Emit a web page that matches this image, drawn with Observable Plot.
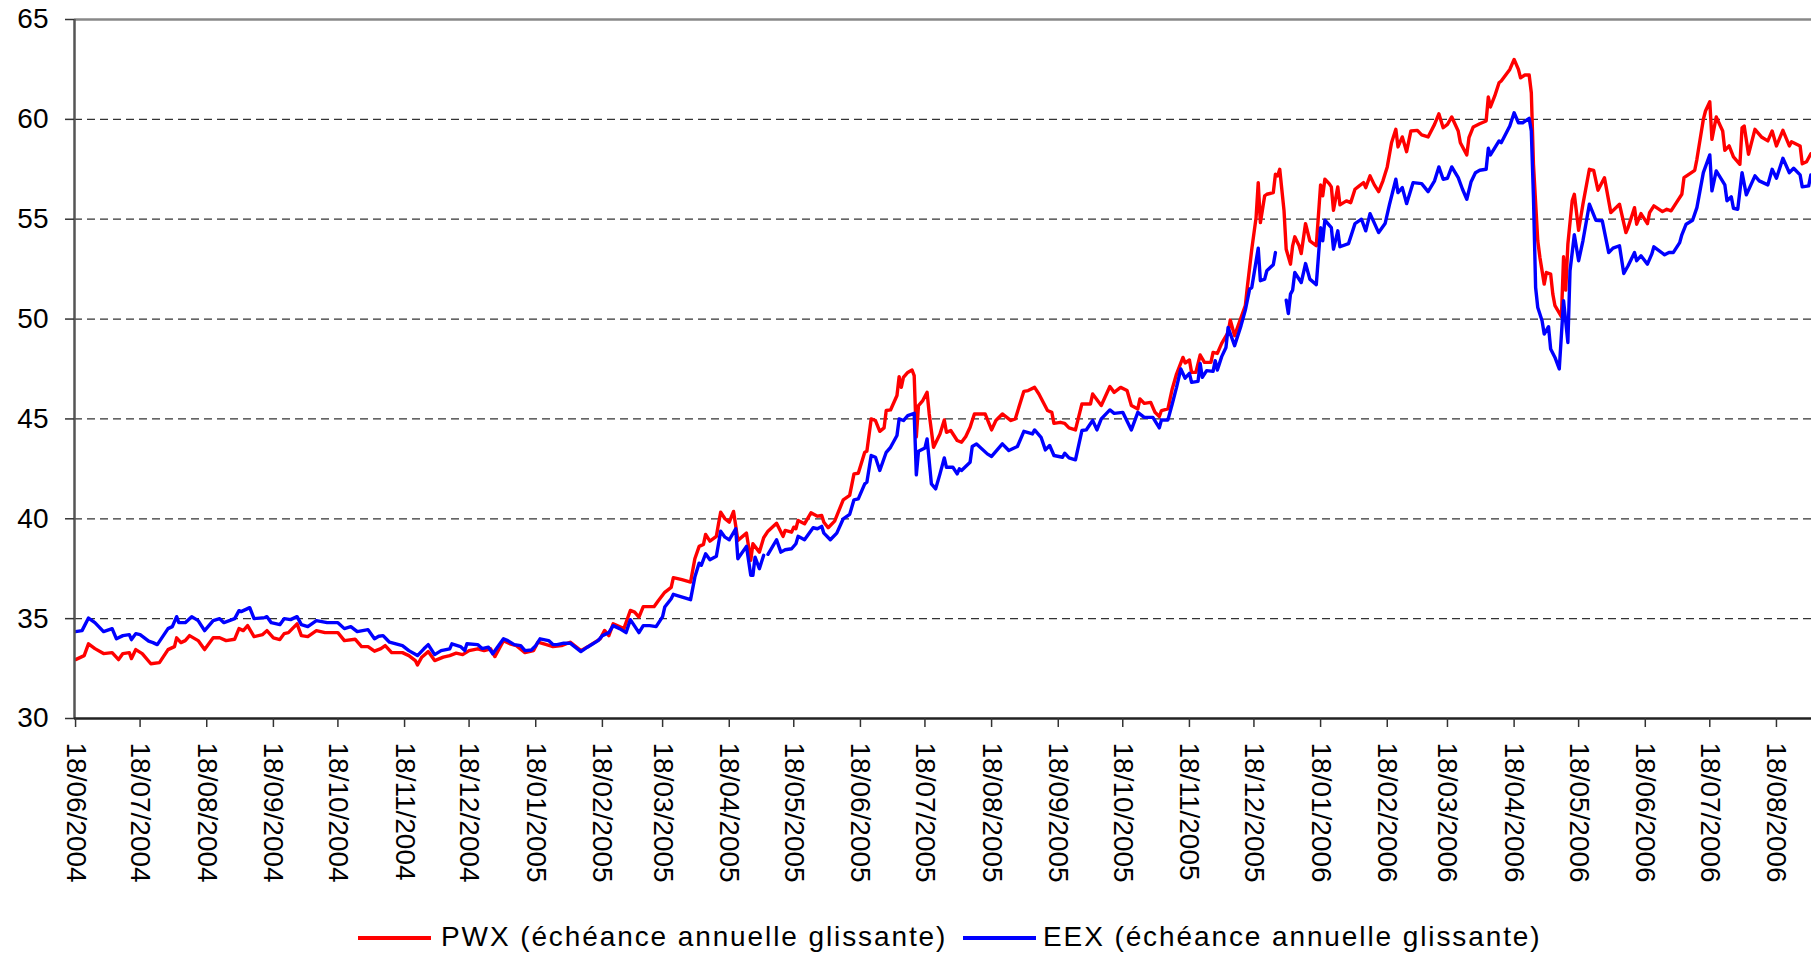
<!DOCTYPE html>
<html>
<head>
<meta charset="utf-8">
<script src="https://cdn.jsdelivr.net/npm/d3@7"></script>
<script src="https://cdn.jsdelivr.net/npm/@observablehq/plot@0.6"></script>
<style>
  html, body { margin: 0; padding: 0; background: #fff; }
  #wrap { position: relative; width: 1811px; height: 956px; overflow: hidden; font-family: "Liberation Sans", Arial, sans-serif; }
  #legend { position: absolute; left: 0; top: 905px; width: 1811px; height: 51px; }
  .lg-line { position: absolute; height: 4px; top: 31px; width: 73px; }
  .lg-text { position: absolute; top: 14px; font-size: 28px; line-height: 36px; letter-spacing: 1.9px; color: #000; white-space: nowrap; }
</style>
</head>
<body>
<div id="wrap">
  <div id="chart"></div>
  <div id="legend"></div>
</div>
<script>
// ---- Data ----
const startDate = "18/06/2004";           // day 0
const seriesNames = ["PWX (échéance annuelle glissante)", "EEX (échéance annuelle glissante)"];
const seriesColors = ["#ff0000", "#0000ff"];

// PWX: trading day offsets (days after 18/06/2004) and prices
const pwxDay = [0,4,6,9,13,17,20,22,25,26,28,31,35,39,43,46,47,49,51,53,57,60,64,67,70,74,76,78,80,83,87,89,92,95,97,99,103,105,108,112,116,122,125,130,133,136,139,142,144,147,152,155,158,159,161,164,167,171,174,177,180,183,187,190,193,195,197,199,202,205,209,213,215,219,222,226,230,235,239,244,246,248,250,255,258,260,262,264,269,271,274,277,278,282,286,288,290,292,293,295,298,299,300,302,304,306,308,312,314,315,318,320,322,326,329,330,333,334,335,336,339,342,345,347,348,350,353,357,360,362,364,367,368,370,372,374,376,377,379,382,383,384,385,387,389,390,391,392,394,396,397,399,402,404,405,407,410,412,414,416,418,423,426,428,431,435,437,441,443,446,448,452,454,455,458,460,462,465,468,472,473,477,481,483,486,489,491,494,495,497,500,502,504,505,508,510,512,515,516,518,519,521,523,525,528,529,531,533,536,537,539,542,544,545,546,547,549,550,551,553,554,557,558,559,560,562,563,565,566,567,569,570,572,574,577,579,580,581,583,584,585,587,588,591,593,595,597,599,600,602,604,606,608,610,612,614,615,617,619,621,624,626,629,632,634,636,638,640,643,644,647,648,650,653,656,657,658,660,662,663,667,669,671,672,674,676,677,678,680,681,683,684,686,687,688,691,692,693,694,696,697,699,701,704,706,708,711,714,718,721,722,725,726,728,731,732,734,738,740,742,745,747,748,753,754,757,758,760,761,763,766,767,769,771,774,775,776,778,781,784,787,789,791,794,797,798,802,803,805,807];
const pwxVal = [32.95,33.15,33.74,33.5,33.25,33.3,32.95,33.25,33.3,33.0,33.45,33.25,32.74,32.8,33.45,33.6,34.04,33.8,33.9,34.15,33.9,33.45,34.04,34.04,33.9,33.97,34.5,34.4,34.65,34.1,34.2,34.4,34.04,33.95,34.25,34.3,34.74,34.15,34.1,34.4,34.3,34.3,33.9,33.97,33.6,33.6,33.37,33.5,33.65,33.3,33.3,33.15,32.9,32.68,33.07,33.35,32.9,33.07,33.15,33.27,33.2,33.4,33.49,33.4,33.49,33.1,33.49,33.9,33.74,33.65,33.3,33.4,33.82,33.7,33.6,33.65,33.82,33.4,33.65,33.99,34.41,34.15,34.74,34.5,35.41,35.33,35.08,35.6,35.6,35.9,36.32,36.57,37.05,36.95,36.83,38.0,38.62,38.72,39.22,38.88,39.12,39.75,40.33,40.0,39.83,40.37,38.92,39.28,37.92,38.75,38.33,39.05,39.38,39.78,39.12,39.42,39.33,39.58,39.5,39.92,39.75,40.3,40.13,40.17,39.83,39.55,39.88,40.95,41.17,42.25,42.28,43.33,43.38,45.0,44.92,44.38,44.55,45.42,45.45,46.17,47.12,46.58,47.08,47.33,47.45,47.17,44.1,45.67,45.92,46.33,45.25,43.58,44.25,44.95,44.33,44.42,43.92,43.83,44.12,44.58,45.25,45.25,44.45,44.92,45.25,44.92,45.0,46.38,46.42,46.58,46.25,45.42,45.33,44.78,44.83,44.78,44.55,44.45,45.75,45.75,46.25,45.67,46.62,46.33,46.58,46.42,45.67,45.5,46.0,45.78,45.83,45.33,45.12,45.42,45.5,46.5,47.25,48.08,47.8,47.95,47.33,47.33,48.2,47.83,47.83,48.33,48.28,48.78,49.33,49.95,49.17,50.08,50.67,51.67,52.58,53.5,55.08,56.83,54.83,56.17,56.25,56.33,57.25,57.17,57.5,55.42,53.5,52.75,53.67,54.12,53.67,53.28,54.78,53.92,53.67,56.72,56.17,57.0,56.78,56.62,55.45,56.62,55.72,55.92,55.83,56.5,56.67,56.83,56.58,57.17,56.72,56.38,56.92,57.62,58.83,59.5,58.62,59.12,58.38,59.42,59.45,59.22,59.12,59.75,60.28,59.58,59.75,60.12,59.42,58.83,58.22,59.08,59.62,59.78,59.92,61.12,60.62,61.17,61.83,61.92,62.5,63.0,62.5,62.08,62.22,62.22,61.33,57.75,53.92,53.08,51.75,52.33,52.25,51.25,50.67,50.12,53.12,51.45,53.75,55.92,56.25,54.45,55.75,57.5,57.45,56.45,57.08,55.33,55.75,54.33,54.58,55.58,54.75,55.28,54.78,55.33,55.67,55.38,55.5,55.42,55.92,56.25,57.08,57.45,58.0,60.0,60.42,60.88,59.0,60.12,59.42,58.45,58.67,58.12,57.75,59.58,59.67,58.25,59.5,59.12,58.92,59.42,58.67,59.45,58.67,58.88,58.67,57.78,57.88,58.28];

// EEX: trading day offsets and prices (null = no quote, line break)
const eexDay = [0,3,6,9,13,17,19,22,25,26,28,30,34,36,38,43,45,47,48,51,54,57,60,64,67,69,74,76,77,81,83,88,89,91,95,97,100,103,105,108,112,117,119,122,125,128,131,136,139,141,143,146,152,155,159,162,164,167,170,174,175,179,181,182,187,189,192,194,199,201,204,207,209,212,214,216,220,222,224,227,230,235,238,243,245,248,250,253,256,258,262,264,267,270,273,274,277,278,281,286,288,290,291,293,295,298,299,300,302,304,307,308,312,314,315,316,318,320,321,322,326,328,330,333,335,336,339,343,345,347,348,351,354,357,360,362,364,367,368,370,372,374,377,379,382,383,385,387,390,391,392,395,396,398,400,402,404,405,408,410,411,412,416,417,419,424,426,431,434,438,441,445,446,449,451,453,455,459,460,462,465,468,470,473,475,477,481,483,487,491,494,497,501,504,505,508,510,512,514,516,518,519,522,523,524,526,529,530,531,533,535,536,539,542,544,546,547,550,551,553,554,557,558,560,563,564,565,566,567,570,572,574,577,579,580,581,584,585,587,588,592,595,598,600,602,606,609,611,614,615,617,619,622,626,629,632,634,636,638,640,643,645,647,649,651,653,656,657,658,662,663,667,669,671,673,676,677,678,679,680,682,683,685,686,688,690,692,694,695,697,699,701,704,707,710,713,715,718,720,722,725,726,728,731,733,734,739,741,743,746,747,749,752,754,757,760,761,763,767,768,770,771,773,775,777,781,783,787,789,791,794,797,799,802,803,806,807];
const eexVal = [34.35,34.4,35.03,34.8,34.35,34.5,33.99,34.15,34.2,33.95,34.25,34.2,33.87,33.8,33.7,34.5,34.6,35.1,34.8,34.8,35.1,34.9,34.4,34.9,35.0,34.8,35.0,35.4,35.35,35.55,35.0,35.05,35.1,34.8,34.7,35.0,34.95,35.1,34.7,34.6,34.9,34.8,34.8,34.8,34.5,34.6,34.35,34.45,33.99,34.12,34.15,33.82,33.65,33.4,33.15,33.49,33.7,33.2,33.4,33.49,33.74,33.6,33.4,33.74,33.7,33.5,33.57,33.24,33.99,33.9,33.7,33.65,33.4,33.43,33.65,33.99,33.9,33.7,33.7,33.77,33.77,33.35,33.57,33.9,34.15,34.3,34.65,34.5,34.3,34.95,34.3,34.65,34.65,34.6,35.1,35.58,36.0,36.22,36.12,35.95,37.08,37.78,37.67,38.25,37.95,38.12,38.75,39.38,39.08,38.95,39.5,38.0,38.62,37.17,37.17,38.08,37.5,38.17,null,38.22,38.95,38.33,38.45,38.5,38.75,39.12,38.95,39.55,39.5,39.62,39.28,38.95,39.28,40.0,40.22,40.95,41.0,41.75,41.83,43.17,43.08,42.42,43.33,43.58,44.17,45.0,44.92,45.17,45.28,42.2,43.38,43.55,44.0,41.75,41.5,42.25,43.05,42.58,42.58,42.25,42.5,42.42,42.83,43.62,43.75,43.25,43.12,43.75,43.42,43.62,44.38,44.25,44.45,44.08,43.45,43.67,43.17,43.08,43.28,43.05,42.95,44.42,44.45,44.92,44.45,45.0,45.45,45.28,45.33,44.45,45.33,45.08,45.08,44.55,44.95,44.95,45.75,46.58,47.5,47.04,47.28,46.83,46.88,47.78,47.08,47.42,47.38,47.92,47.45,48.12,48.58,49.58,48.67,49.67,50.45,51.5,51.58,53.55,51.92,52.0,52.42,52.72,53.33,null,50.95,50.28,51.25,51.45,52.33,51.83,52.78,52.0,51.72,54.58,53.92,54.95,54.58,53.5,54.42,53.62,53.78,54.78,55.0,54.42,55.28,54.33,54.78,55.72,57.0,56.33,56.58,55.78,56.83,56.78,56.38,56.92,57.62,57.0,57.05,57.62,57.08,56.5,56.0,56.88,57.33,57.45,57.5,58.55,58.22,58.92,58.83,59.67,60.33,59.83,59.83,60.05,59.42,56.08,51.58,50.58,49.92,49.25,49.62,48.5,48.08,47.5,50.92,48.83,52.42,54.22,52.92,53.92,55.75,54.95,54.92,53.33,53.55,53.67,52.28,52.67,53.33,52.92,53.17,52.75,53.25,53.62,53.22,53.33,53.33,53.83,54.22,54.75,54.95,55.58,57.33,58.22,56.42,57.42,56.72,55.92,56.12,55.55,55.5,57.33,56.22,57.17,56.92,56.72,57.5,57.05,58.05,57.33,57.55,57.22,56.62,56.67,57.22];

const xTickLabels = ["18/06/2004","18/07/2004","18/08/2004","18/09/2004","18/10/2004","18/11/2004","18/12/2004","18/01/2005","18/02/2005","18/03/2005","18/04/2005","18/05/2005","18/06/2005","18/07/2005","18/08/2005","18/09/2005","18/10/2005","18/11/2005","18/12/2005","18/01/2006","18/02/2006","18/03/2006","18/04/2006","18/05/2006","18/06/2006","18/07/2006","18/08/2006"];
const yTicks = [30,35,40,45,50,55,60,65];
const yGrid = [35,40,45,50,55,60];
const yDomain = [30,65];
const xLastDay = 807.3;  // right edge of the visible window (days after start)

// ---- Build tables ----
const parse = d3.utcParse("%d/%m/%Y");
const fmt = d3.utcFormat("%d/%m/%Y");
const t0 = parse(startDate);
const toDate = d => new Date(+t0 + d * 864e5);
const pwx = pwxDay.map((d, i) => ({date: toDate(d), value: pwxVal[i]}));
const eex = eexDay.map((d, i) => ({date: toDate(d), value: eexVal[i]}));
const xTicks = xTickLabels.map(parse);
const xDomain = [toDate(-0.5), toDate(xLastDay)];

const W = 1811, H = 905;
const chart = Plot.plot({
  width: W,
  height: H,
  marginLeft: 74,
  marginRight: 0,
  marginTop: 19,
  marginBottom: 187,
  style: {fontFamily: '"Liberation Sans", Arial, sans-serif', fontSize: "28px", color: "#000", background: "#fff", overflow: "visible"},
  x: {type: "utc", domain: xDomain},
  y: {domain: yDomain},
  marks: [
    Plot.ruleY(yGrid, {stroke: "#333", strokeWidth: 1.3, strokeDasharray: "8,5"}),
    Plot.ruleY([yDomain[1]], {stroke: "#888", strokeWidth: 2.5}),
    Plot.line(pwx, {x: "date", y: "value", stroke: seriesColors[0], strokeWidth: 3.4, clip: true}),
    Plot.line(eex, {x: "date", y: "value", stroke: seriesColors[1], strokeWidth: 3.4, clip: true}),
    Plot.ruleX([xDomain[0]], {stroke: "#555", strokeWidth: 2.5}),
    Plot.ruleY([yDomain[0]], {stroke: "#222", strokeWidth: 2.5}),
    Plot.axisY({ticks: yTicks, tickSize: 9, tickPadding: 17, fontSize: 28, label: null, stroke: "#333", strokeWidth: 1.5, fill: "#000"}),
    Plot.axisX({ticks: xTicks, tickFormat: fmt, tickRotate: 90, tickSize: 9, tickPadding: 15, fontSize: 28, label: null, stroke: "#333", strokeWidth: 1.5, fill: "#000"})
  ]
});
document.getElementById("chart").appendChild(chart);

// ---- Legend (HTML, below the SVG) ----
const legend = document.getElementById("legend");
const lgLines = [358, 963];
const lgTexts = [441, 1043];
seriesNames.forEach((name, i) => {
  const l = document.createElement("div");
  l.className = "lg-line";
  l.style.left = lgLines[i] + "px";
  l.style.background = seriesColors[i];
  legend.appendChild(l);
  const t = document.createElement("div");
  t.className = "lg-text";
  t.style.left = lgTexts[i] + "px";
  t.textContent = name;
  legend.appendChild(t);
});
</script>
</body>
</html>
